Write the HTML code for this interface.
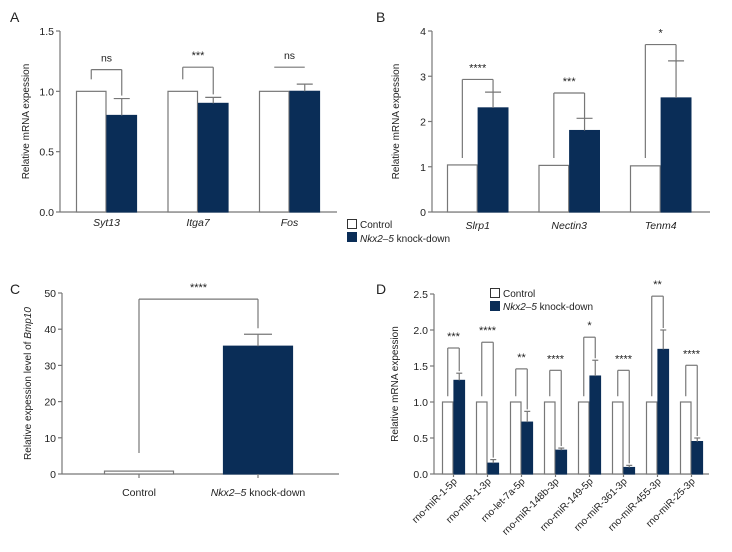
<!DOCTYPE html>
<html><head><meta charset="utf-8">
<style>
html,body{margin:0;padding:0;background:#fff;}
svg{display:block;font-family:"Liberation Sans",sans-serif;}
text{fill:#222;}
</style></head>
<body>
<svg id="fig" width="732" height="552" viewBox="0 0 732 552">
<text x="10" y="22" font-size="14">A</text>
<text x="376" y="22" font-size="14">B</text>
<text x="10" y="294" font-size="14">C</text>
<text x="376" y="294" font-size="14">D</text>
<g>
<rect x="347.5" y="219.5" width="9" height="9" fill="#fff" stroke="#333"/>
<text x="360" y="228" font-size="10">Control</text>
<rect x="347.5" y="232.5" width="9" height="9" fill="#0a2d57" stroke="#0a2d57"/>
<text x="360" y="242" font-size="10"><tspan font-style="italic">Nkx2–5</tspan> knock-down</text>
</g>
<g>
<rect x="490.5" y="288.5" width="9" height="9" fill="#fff" stroke="#333"/>
<text x="503" y="297" font-size="10">Control</text>
<rect x="490.5" y="301.5" width="9" height="9" fill="#0a2d57" stroke="#0a2d57"/>
<text x="503" y="310" font-size="10"><tspan font-style="italic">Nkx2–5</tspan> knock-down</text>
</g>
</svg>
<script>
// Panel A data
const aCats = ["Syt13","Itga7","Fos"];
const aCtrl = [1.0,1.0,1.0];
const aKd = [0.8,0.9,1.0];
const aErr = [0.14,0.05,0.06];
const aSig = ["ns","***","ns"];
const aBracket = [1.18,1.2,1.2];
const aTicks = [0,0.5,1.0,1.5];
const aTickLabels = ["0.0","0.5","1.0","1.5"];
// Panel B data
const bCats = ["Slrp1","Nectin3","Tenm4"];
const bCtrl = [1.04,1.03,1.02];
const bKd = [2.3,1.8,2.52];
const bErr = [0.35,0.27,0.82];
const bSig = ["****","***","*"];
const bBracket = [2.93,2.63,3.7];
const bTicks = [0,1,2,3,4];
const bTickLabels = ["0","1","2","3","4"];
// Panel C data
const cCats = ["Control","Nkx2–5 knock-down"];
const cVals = [0.8,35.3];
const cErr = [0,3.3];
const cBracket = 48.3;
const cTicks = [0,10,20,30,40,50];
const cTickLabels = ["0","10","20","30","40","50"];
// Panel D data
const dCats = ["rno-miR-1-5p","rno-miR-1-3p","rno-let-7a-5p","rno-miR-148b-3p","rno-miR-149-5p","rno-miR-361-3p","rno-miR-455-3p","rno-miR-25-3p"];
const dCtrl = [1,1,1,1,1,1,1,1];
const dKd = [1.3,0.15,0.72,0.33,1.36,0.09,1.73,0.45];
const dErr = [0.1,0.05,0.15,0.03,0.22,0.03,0.27,0.05];
const dSig = ["***","****","**","****","*","****","**","****"];
const dBracket = [1.75,1.83,1.46,1.44,1.9,1.44,2.47,1.51];
const dTicks = [0,0.5,1.0,1.5,2.0,2.5];
const dTickLabels = ["0.0","0.5","1.0","1.5","2.0","2.5"];

const NS="http://www.w3.org/2000/svg";
const svg=document.getElementById('fig');
const NAVY="#0a2d57", AX="#777";
function mk(tag,attrs,parent){const e=document.createElementNS(NS,tag);for(const k in attrs)e.setAttribute(k,attrs[k]);(parent||svg).appendChild(e);return e;}
function line(x1,y1,x2,y2,p,c){return mk('line',{x1,y1,x2,y2,stroke:c||AX,'stroke-width':1.2},p);}

function axes(p,x0,x1,yFn,yTop,ticks,labels,title,titleX,italicPart){
  line(x0,yFn(0),x0,yTop,p);
  line(x0,yFn(0),x1,yFn(0),p);
  ticks.forEach((t,i)=>{
    const y=yFn(t);
    line(x0-4,y,x0,y,p);
    const tx=mk('text',{x:x0-6,y:y+4,'font-size':10.5,'text-anchor':'end'},p);
    tx.textContent=labels[i];
    
    
  });
  const cy=(yFn(0)+yTop)/2;
  const tt=mk('text',{x:titleX,y:cy,'font-size':10,'text-anchor':'middle',transform:`rotate(-90 ${titleX} ${cy})`},p);
  
  
  tt.textContent=title;
  if(italicPart){const ts=mk('tspan',{'font-style':'italic'},tt);ts.textContent=italicPart;}
}
function bar(p,x,w,v,yFn,fill,name){
  const y=yFn(v), h=yFn(0)-y;
  const r=mk('rect',{x:x+0.5,y:y,width:w-1,height:h,fill:fill,stroke:fill==="#fff"?AX:NAVY,'stroke-width':1.2},p);
  
  
  return r;
}
function errbar(p,cx,v,e,yFn,cap){
  if(e<=0)return;
  line(cx,yFn(v),cx,yFn(v+e),p,AX);
  line(cx-cap,yFn(v+e),cx+cap,yFn(v+e),p,AX);
}
function sig(p,x1,x2,yb,l1,l2,txt,legs){
  line(x1,yb,x2,yb,p);
  if(legs){line(x1,yb,x1,l1,p);line(x2,yb,x2,l2,p);}
  const t=mk('text',{x:(x1+x2)/2,y:yb-8,'font-size':txt==="ns"?10.5:11,'text-anchor':'middle'},p);
  t.textContent=txt;
  
  
}

// Panel A
(function(){
  const g=mk('g',{});
  
  
  const y=v=>212-v/1.5*181;
  axes(g,60,337,y,y(1.5),aTicks,aTickLabels,"Relative mRNA expession",29);
  aCats.forEach((c,i)=>{
    const gx=76+i*91.5, w=30.5;
    bar(g,gx,w,aCtrl[i],y,"#fff",'bar-control-'+c);
    bar(g,gx+w,w,aKd[i],y,NAVY,'bar-kd-'+c);
    errbar(g,gx+w*1.5,aKd[i],aErr[i],y,8);
    const yb=y(aBracket[i]);
    sig(g,gx+w/2,gx+w*1.5,yb,y(aCtrl[i])-12,y(aKd[i]+aErr[i])-3,aSig[i],aSig[i]!=="ns"||i===0);
    const t=mk('text',{x:gx+w,y:226,'font-size':10.5,'font-style':'italic','text-anchor':'middle'},g);
    t.textContent=c;
    
    
  });
})();
// Panel B
(function(){
  const g=mk('g',{});
  
  
  const y=v=>212-v/4*181;
  axes(g,432,710,y,y(4),bTicks,bTickLabels,"Relative mRNA expession",399);
  bCats.forEach((c,i)=>{
    const gx=447+i*91.5, w=30.7;
    bar(g,gx,w,bCtrl[i],y,"#fff",'bar-control-'+c);
    bar(g,gx+w,w,bKd[i],y,NAVY,'bar-kd-'+c);
    errbar(g,gx+w*1.5,bKd[i],bErr[i],y,8);
    sig(g,gx+w/2,gx+w*1.5,y(bBracket[i]),158,y(bKd[i]+bErr[i])+1,bSig[i],true);
    const t=mk('text',{x:gx+w,y:229,'font-size':10.5,'font-style':'italic','text-anchor':'middle'},g);
    t.textContent=c;
    
    
  });
})();
// Panel C
(function(){
  const g=mk('g',{});
  
  
  const y=v=>474-v/50*181;
  axes(g,62,339,y,y(50),cTicks,cTickLabels,"Relative expession level of ",31,"Bmp10");
  const xs=[104,223], w=70;
  cCats.forEach((c,i)=>{
    bar(g,xs[i],w,cVals[i],y,i===0?"#fff":NAVY,'bar-'+(i===0?'control':'kd'));
    errbar(g,xs[i]+w/2,cVals[i],cErr[i],y,14);
    line(xs[i]+w/2,y(0),xs[i]+w/2,y(0)+4,g);
    const t=mk('text',{x:xs[i]+w/2,y:496,'font-size':10.5,'text-anchor':'middle'},g);
    
    
    if(i===1){const ts=mk('tspan',{'font-style':'italic'},t);ts.textContent="Nkx2–5";const t2=mk('tspan',{},t);t2.textContent=" knock-down";}
    else t.textContent=c;
  });
  sig(g,139,258,y(cBracket),453,y(cVals[1]+cErr[1])-6,"****",true);
})();
// Panel D
(function(){
  const g=mk('g',{});
  
  
  const y=v=>474-v/2.5*180;
  axes(g,434,709,y,y(2.5),dTicks,dTickLabels,"Relative mRNA expession",398);
  dCats.forEach((c,i)=>{
    const gx=442+i*34, w=11.5;
    bar(g,gx,w,dCtrl[i],y,"#fff",'bar-control-'+c);
    bar(g,gx+w,w,dKd[i],y,NAVY,'bar-kd-'+c);
    errbar(g,gx+w*1.5,dKd[i],dErr[i],y,3);
    sig(g,gx+w/2,gx+w*1.5,y(dBracket[i]),y(1.08),y(dKd[i]+dErr[i])-2,dSig[i],true);
    line(gx+w,y(0),gx+w,y(0)+3,g);
    const cx=gx+w+4, cy=482;
    const t=mk('text',{x:cx,y:cy,'font-size':10,'text-anchor':'end',transform:`rotate(-45 ${cx} ${cy})`},g);
    t.textContent=c;
    
    
  });
})();
</script>
</body></html>
